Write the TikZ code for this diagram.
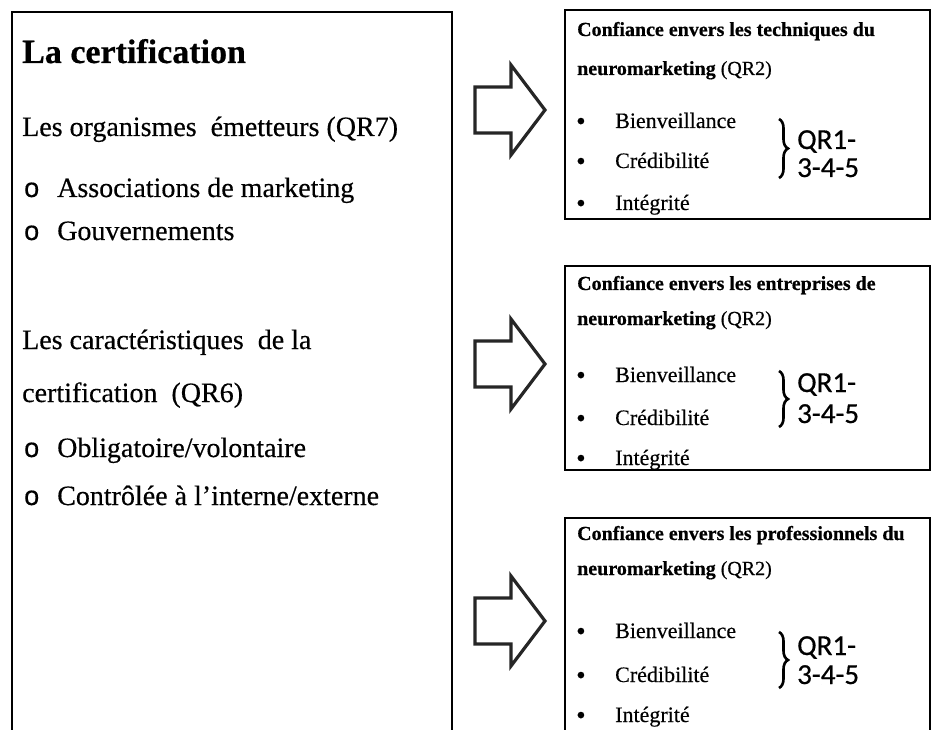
\documentclass[tikz,border=0pt]{standalone}
\usepackage{fontspec}
\setmainfont{Liberation Serif}[UprightFeatures={FakeBold=0.4},BoldFeatures={FakeBold=0.5}]
\newfontfamily\qrfont{Carlito}[FakeBold=0.5]
\newfontfamily\markfont{Liberation Sans}[FakeBold=0.5]
\usetikzlibrary{decorations.pathreplacing}

\begin{document}
\begin{tikzpicture}[x=1pt,y=-1pt,
  frame/.style={draw=black,line width=2.4pt},
  bigarrow/.style={draw=black!85,line width=3.2pt,line join=miter,fill=white},
  lefttxt/.style={anchor=base west,inner sep=0pt,font=\fontsize{28}{32}\selectfont},
  titletxt/.style={anchor=base west,inner sep=0pt,font=\fontsize{34}{38}\selectfont\bfseries},
  ring/.style={anchor=base west,inner sep=0pt,font=\fontsize{27}{30}\markfont},
  headtxt/.style={anchor=base west,inner sep=0pt,font=\fontsize{20}{24}\selectfont},
  itemtxt/.style={anchor=base west,inner sep=0pt,font=\fontsize{22}{26}\selectfont},
  dot/.style={anchor=base west,inner sep=0pt,font=\fontsize{27}{30}\selectfont},
  qrtxt/.style={anchor=base west,inner sep=0pt,font=\fontsize{29}{32}\qrfont},
  bracestyle/.style={line width=2.6pt,decorate,decoration={brace,amplitude=9pt}}
]
\useasboundingbox (0,0) rectangle (932,730);
\clip (0,0) rectangle (932,730);

% left panel: certification
\draw[frame] (12,12) rectangle (452,760);
\node[titletxt] (title) at (22,63) {La certification};
\node[lefttxt] (org) at (22,136) {Les organismes~ émetteurs (QR7)};
\node[ring] (o1) at (24,197) {o};
\node[lefttxt] (assoc) at (57,197) {Associations de marketing};
\node[ring] (o2) at (24,240) {o};
\node[lefttxt] (gouv) at (57,240) {Gouvernements};
\node[lefttxt] (carac) at (22,349) {Les caractéristiques~ de la};
\node[lefttxt] (certif) at (22,402) {certification~ (QR6)};
\node[ring] (o3) at (24,457) {o};
\node[lefttxt] (oblig) at (57,457) {Obligatoire/volontaire};
\node[ring] (o4) at (24,505) {o};
\node[lefttxt] (ctrl) at (57,505) {Contrôlée à l’interne/externe};

% block arrows
\foreach \c in {110,364,621}{
  \draw[bigarrow] (475,\c-23) -- (511,\c-23) -- (511,\c-45) -- (545,\c)
    -- (511,\c+45) -- (511,\c+23) -- (475,\c+23) -- cycle;
}

% right panel 1
\draw[frame] (565,10) rectangle (930,219);
\node[headtxt] (h1a) at (577,36) {\bfseries Confiance envers les techniques du};
\node[headtxt] (h1b) at (577,75) {\textbf{neuromarketing} (QR2)};
\node[dot] (b1a) at (576,130) {\textbullet};
\node[itemtxt] (i1a) at (615,128) {Bienveillance};
\node[dot] (b1b) at (576,170) {\textbullet};
\node[itemtxt] (i1b) at (615,168) {Crédibilité};
\node[dot] (b1c) at (576,212) {\textbullet};
\node[itemtxt] (i1c) at (615,210) {Intégrité};
\coordinate (br1t) at (779,119);
\coordinate (br1b) at (779,178);
\draw[bracestyle] (br1t) -- (br1b);
\node[qrtxt] (q1a) at (797,149) {QR1-};
\node[qrtxt] (q1b) at (797,177) {3-4-5};

% right panel 2
\draw[frame] (565,266) rectangle (930,470);
\node[headtxt] (h2a) at (577,290) {\bfseries Confiance envers les entreprises de};
\node[headtxt] (h2b) at (577,325) {\textbf{neuromarketing} (QR2)};
\node[dot] (b2a) at (576,384) {\textbullet};
\node[itemtxt] (i2a) at (615,382) {Bienveillance};
\node[dot] (b2b) at (576,427) {\textbullet};
\node[itemtxt] (i2b) at (615,425) {Crédibilité};
\node[dot] (b2c) at (576,467) {\textbullet};
\node[itemtxt] (i2c) at (615,465) {Intégrité};
\coordinate (br2t) at (779,371);
\coordinate (br2b) at (779,427);
\draw[bracestyle] (br2t) -- (br2b);
\node[qrtxt] (q2a) at (797,392) {QR1-};
\node[qrtxt] (q2b) at (797,423) {3-4-5};

% right panel 3
\draw[frame] (565,518) rectangle (930,760);
\node[headtxt] (h3a) at (577,540) {\bfseries Confiance envers les professionnels du};
\node[headtxt] (h3b) at (577,575) {\textbf{neuromarketing} (QR2)};
\node[dot] (b3a) at (576,640) {\textbullet};
\node[itemtxt] (i3a) at (615,638) {Bienveillance};
\node[dot] (b3b) at (576,684) {\textbullet};
\node[itemtxt] (i3b) at (615,682) {Crédibilité};
\node[dot] (b3c) at (576,724) {\textbullet};
\node[itemtxt] (i3c) at (615,722) {Intégrité};
\coordinate (br3t) at (779,632);
\coordinate (br3b) at (779,688);
\draw[bracestyle] (br3t) -- (br3b);
\node[qrtxt] (q3a) at (797,655) {QR1-};
\node[qrtxt] (q3b) at (797,684) {3-4-5};
\end{tikzpicture}
\end{document}
